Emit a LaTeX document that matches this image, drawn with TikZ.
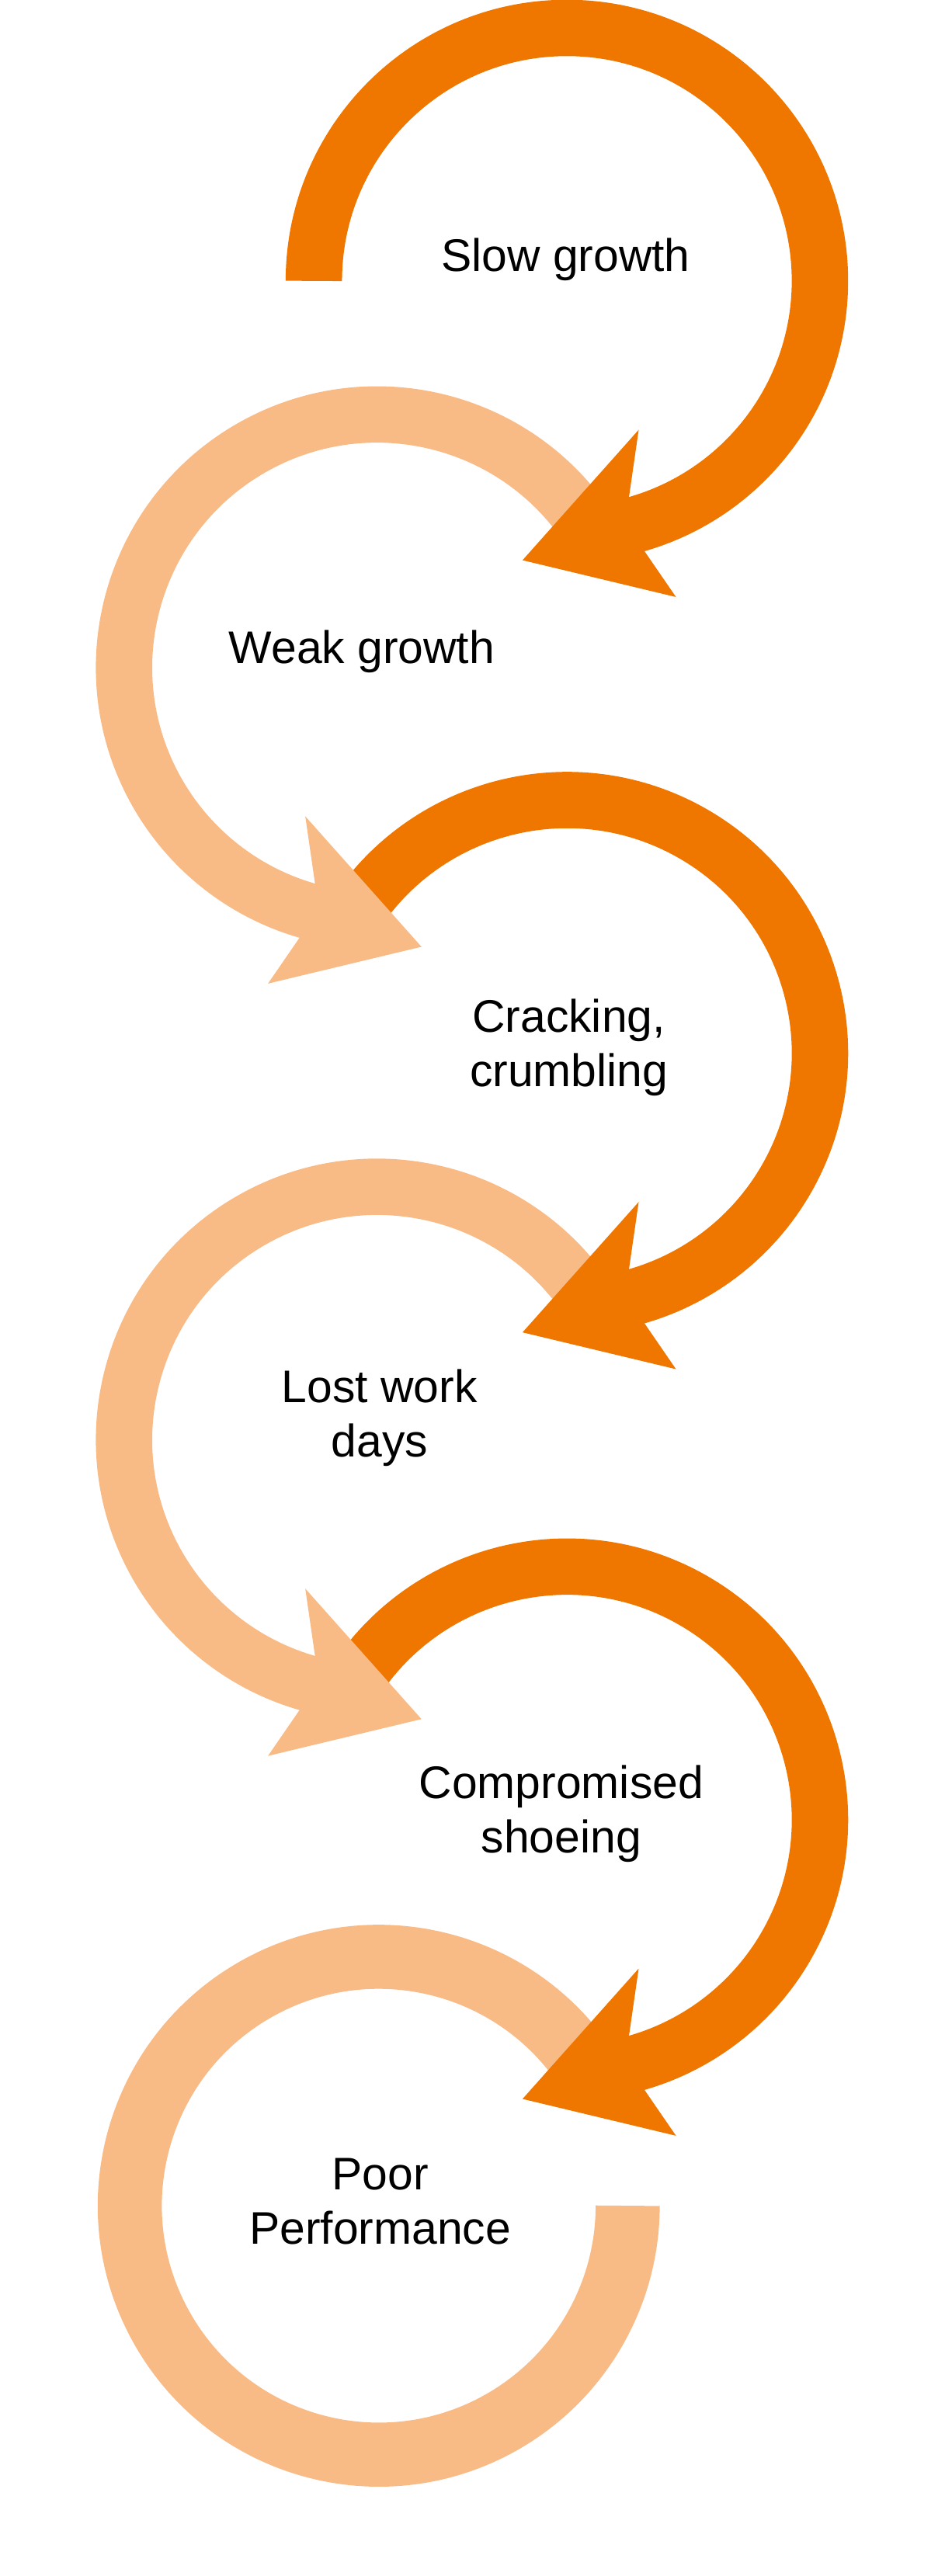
\documentclass[tikz,border=0pt]{standalone}
\usepackage{fontspec}
\setmainfont{Liberation Sans}
\definecolor{hoofdark}{RGB}{239,119,0}
\definecolor{hooflight}{RGB}{248,187,134}
% head of one ring arrow, in the ring's own frame
\newcommand{\ringhead}[1]{\fill[#1] (-74:137)--(43.7,-90.6)--(-27,-170)--(66.4,-192.4)--(-74:171)--cycle;}

\begin{document}
\begin{tikzpicture}[x=1pt,y=1pt,
  ring/.style={line width=34.3pt},
  lbl/.style={font=\fontsize{27.8}{33}\selectfont,align=center,anchor=base,inner sep=0pt}]
\useasboundingbox (0,0) rectangle (579,-1568);

% last ring first, so each head lies over the start of the next ring
\begin{scope}[shift={(230.5,-1342.6)},xscale=-1]
\draw[line width=39pt,hooflight] (150:151.5) arc[start angle=150,end angle=-180,radius=151.5];
\end{scope}
\begin{scope}[shift={(345,-1107.6)}]
\draw[ring,hoofdark] (150:154) arc[start angle=150,end angle=-76,radius=154];\ringhead{hoofdark}
\end{scope}
\begin{scope}[shift={(229.5,-876.4)},xscale=-1]
\draw[ring,hooflight] (150:154) arc[start angle=150,end angle=-76,radius=154];\ringhead{hooflight}
\end{scope}
\begin{scope}[shift={(345,-641)}]
\draw[ring,hoofdark] (150:154) arc[start angle=150,end angle=-76,radius=154];\ringhead{hoofdark}
\end{scope}
\begin{scope}[shift={(229.5,-406.3)},xscale=-1]
\draw[ring,hooflight] (150:154) arc[start angle=150,end angle=-76,radius=154];\ringhead{hooflight}
\end{scope}
\begin{scope}[shift={(345,-171)}]
\draw[ring,hoofdark] (180:154) arc[start angle=180,end angle=-76,radius=154];\ringhead{hoofdark}
\end{scope}

% base = baseline of the last line
\node[lbl] (slow) at (344.3,-165){Slow growth};
\node[lbl] (weak) at (220.2,-403.7){Weak growth};
\node[lbl] (crack) at (346.2,-661.3){Cracking,\\crumbling};
\node[lbl] (lost) at (231,-886.6){Lost work\\days};
\node[lbl] (shoe) at (341.6,-1127.9){Compromised\\shoeing};
\node[lbl] (poor) at (231.4,-1365.8){Poor\\Performance};
\end{tikzpicture}
\end{document}
